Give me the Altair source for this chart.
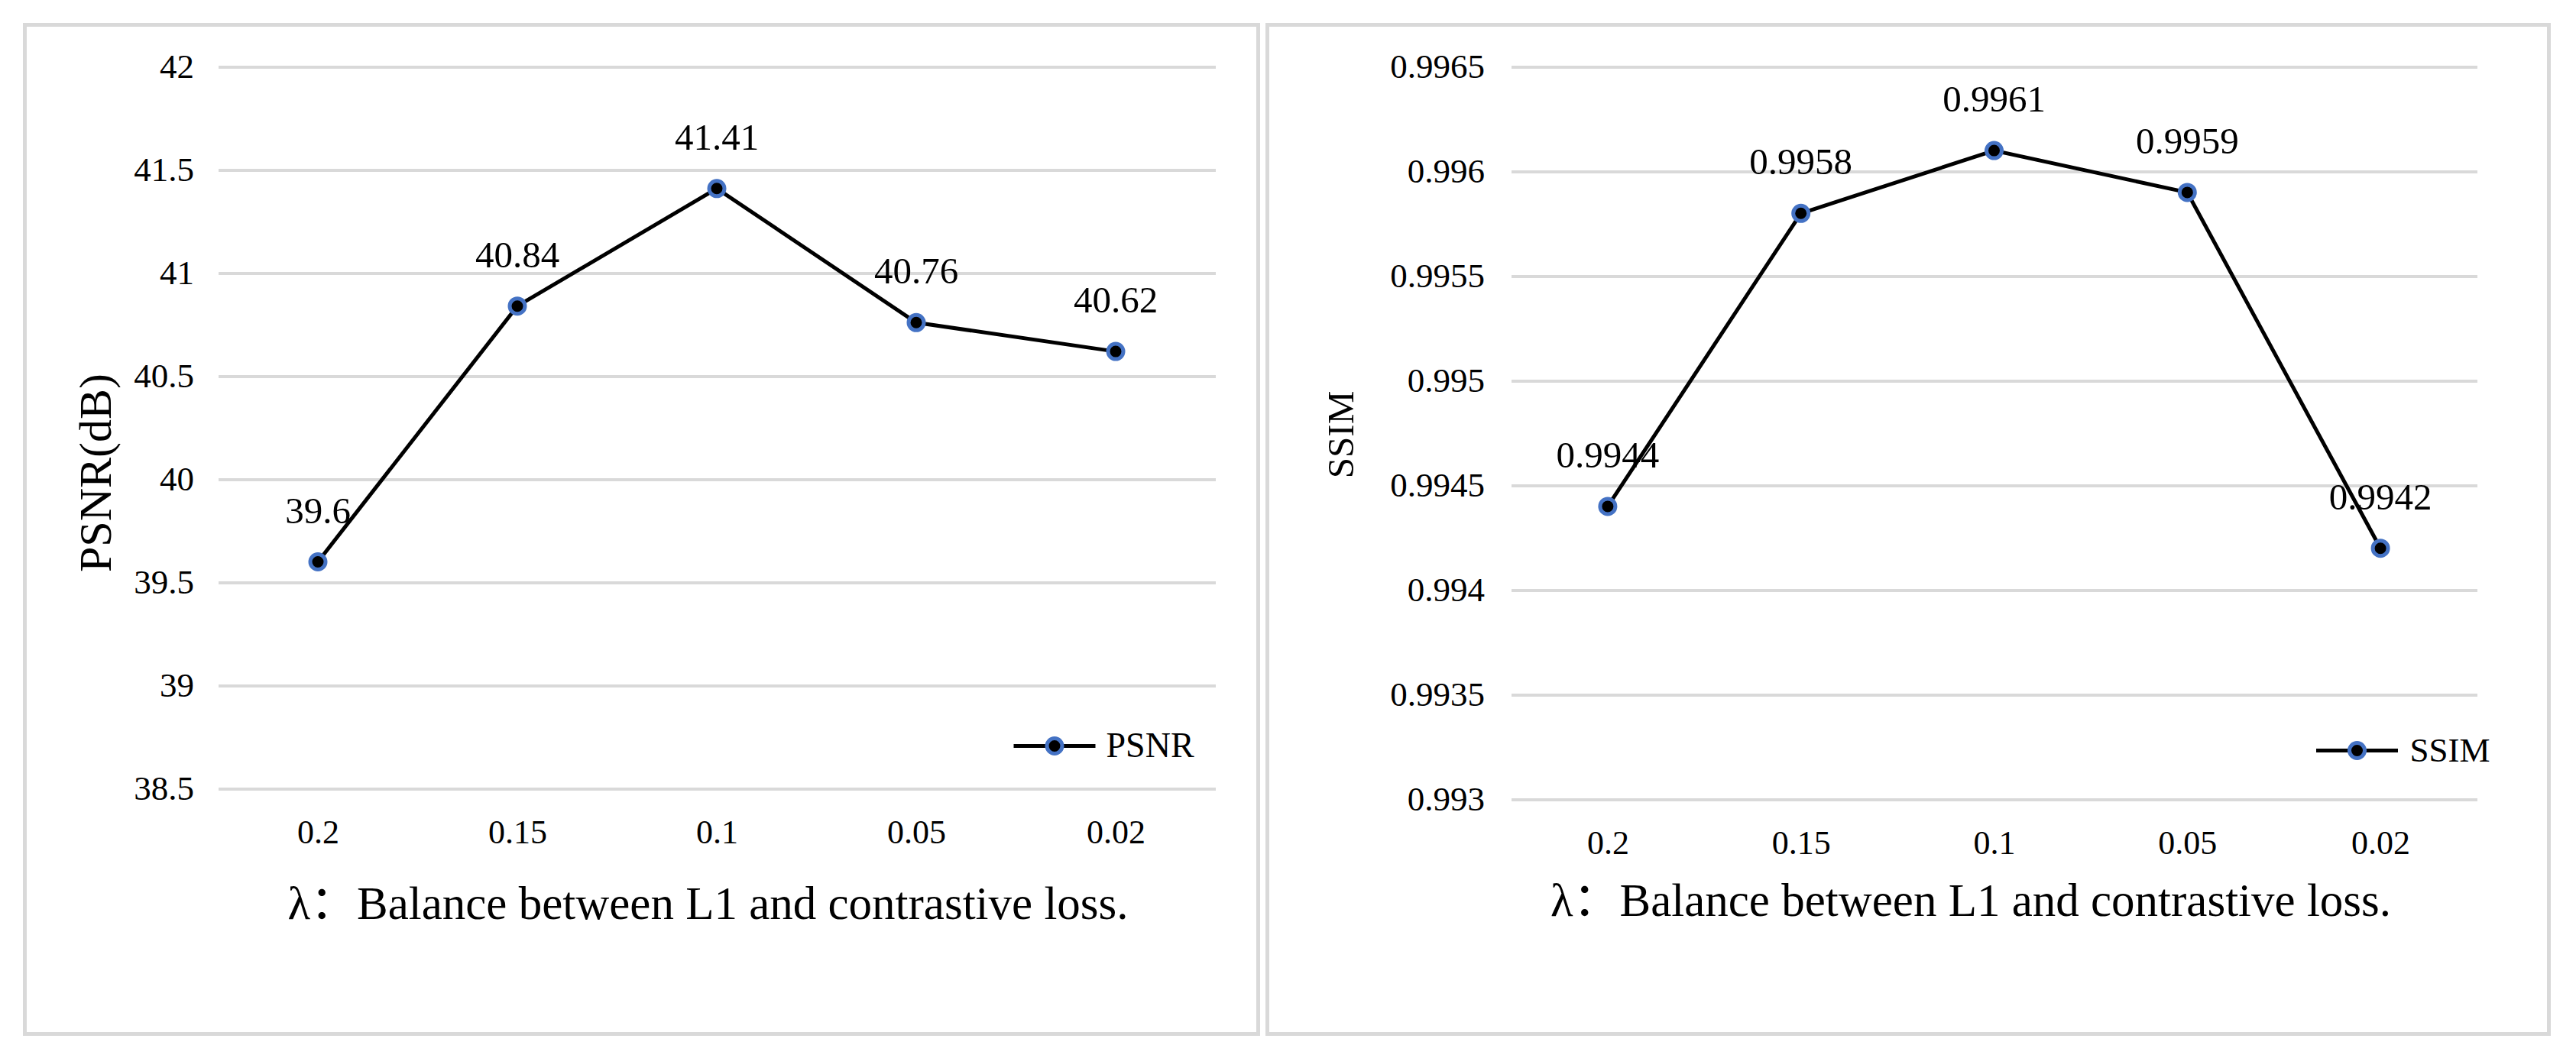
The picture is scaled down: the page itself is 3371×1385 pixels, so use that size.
import altair as alt
import pandas as pd

# ---- data ----
lambdas = ["0.2", "0.15", "0.1", "0.05", "0.02"]
psnr = [39.6, 40.84, 41.41, 40.76, 40.62]
ssim = [0.9944, 0.9958, 0.9961, 0.9959, 0.9942]
psnr_ticks = [38.5, 39, 39.5, 40, 40.5, 41, 41.5, 42]
ssim_ticks = [0.993, 0.9935, 0.994, 0.9945, 0.995, 0.9955, 0.996, 0.9965]
x_title = "λ：Balance between L1 and contrastive loss."

FONT = "Liberation Serif, Noto Sans CJK SC, serif"
BLUE = "#4472C4"
GRID = "#d9d9d9"
BORDER = "#d9d9d9"


def panel(values, name, ticks, w, h, y_title, y_title_size, y_title_x, y_title_y,
          x_title_x, x_title_y, y_label_pad, border, leg_line, leg_font, label_off):
    df = pd.DataFrame({"lam": lambdas, "v": values, "series": name, "series_pt": name})
    frame = pd.DataFrame({"k": [0]})

    x = alt.X(
        "lam:N", sort=lambdas,
        scale=alt.Scale(type="point", padding=0.5),
        axis=alt.Axis(
            title=x_title, labelAngle=0, labelFont=FONT, labelFontSize=44,
            labelColor="black", labelPadding=58, labelBaseline="middle",
            ticks=False, tickSize=0, domain=False, grid=False,
            titleFont=FONT, titleFontSize=61, titleFontWeight="normal",
            titleColor="black", titleX=x_title_x, titleY=x_title_y,
            titleBaseline="middle", titleAlign="center",
        ),
    )
    y = alt.Y(
        "v:Q",
        scale=alt.Scale(domain=[ticks[0], ticks[-1]], nice=False, zero=False),
        axis=alt.Axis(
            title=y_title, values=ticks, format="~g", labelFont=FONT,
            labelFontSize=45, labelColor="black", labelPadding=y_label_pad,
            ticks=False, tickSize=0, domain=False, grid=True,
            gridColor=GRID, gridWidth=4,
            titleFont=FONT, titleFontSize=y_title_size, titleFontWeight="normal",
            titleColor="black", titleX=y_title_x, titleY=y_title_y,
            titleBaseline="middle", titleAlign="center", titleAngle=270,
        ),
    )

    lx, ly = leg_line
    box = alt.Chart(frame).mark_rect(
        fill="transparent", stroke=BORDER, strokeWidth=5
    ).encode(
        x=alt.value(border[0]), x2=alt.value(border[1]),
        y=alt.value(border[2]), y2=alt.value(border[3]),
    )
    line = alt.Chart(df).mark_line(strokeWidth=5, color="black").encode(
        x=x, y=y,
        stroke=alt.Stroke(
            "series:N", scale=alt.Scale(range=["#000000"]),
            legend=alt.Legend(
                title=None, orient="none", legendX=lx - 56, legendY=ly - 56,
                symbolType="stroke", symbolSize=11449, symbolStrokeWidth=5,
                symbolStrokeColor="#000000", labelFont=FONT,
                labelFontSize=leg_font, labelColor="black",
                labelOffset=label_off, padding=0, zindex=1,
            ),
        ),
    )
    pts = alt.Chart(df).mark_point(
        filled=True, size=400, stroke=BLUE, strokeWidth=5, opacity=1
    ).encode(
        x=x, y=y,
        fill=alt.Fill(
            "series_pt:N", scale=alt.Scale(range=["#000000"]),
            legend=alt.Legend(
                title=None, orient="none", legendX=lx - 12.5, legendY=ly - 12.5,
                symbolType="circle", symbolSize=400, symbolStrokeWidth=5,
                symbolStrokeColor=BLUE, symbolFillColor="#000000",
                labelFontSize=10, labelOpacity=0, padding=0, zindex=2,
            ),
        ),
    )
    labels = alt.Chart(df).mark_text(
        dy=-66, fontSize=49, font=FONT, color="black", baseline="middle"
    ).encode(x=x, y=y, text=alt.Text("v:Q"))

    return alt.layer(box, line, pts, labels).properties(width=w, height=h)


left = panel(
    psnr, "PSNR", psnr_ticks, 1305, 945, "PSNR(dB)", 60, -159, 531,
    640.5, 152, 32, (-253, 1361, -55, 1266), (1094.5, 889), 46, 11.5,
)
right = panel(
    ssim, "SSIM", ssim_ticks, 1264, 959, "SSIM", 49, -222, 481,
    601, 134, 35, (-319, 1358, -55, 1266), (1107, 895), 45, 13,
)

chart = (
    alt.hconcat(left, right, spacing=387, bounds="flush")
    .resolve_scale(stroke="independent", fill="independent")
    .resolve_legend(stroke="independent", fill="independent")
    .properties(padding={"left": 21.5, "top": 21.5, "right": 10, "bottom": 10},
                background="white")
    .configure_view(stroke=None)
)

chart.save("out.html", embed_options={"renderer": "svg", "actions": False})
